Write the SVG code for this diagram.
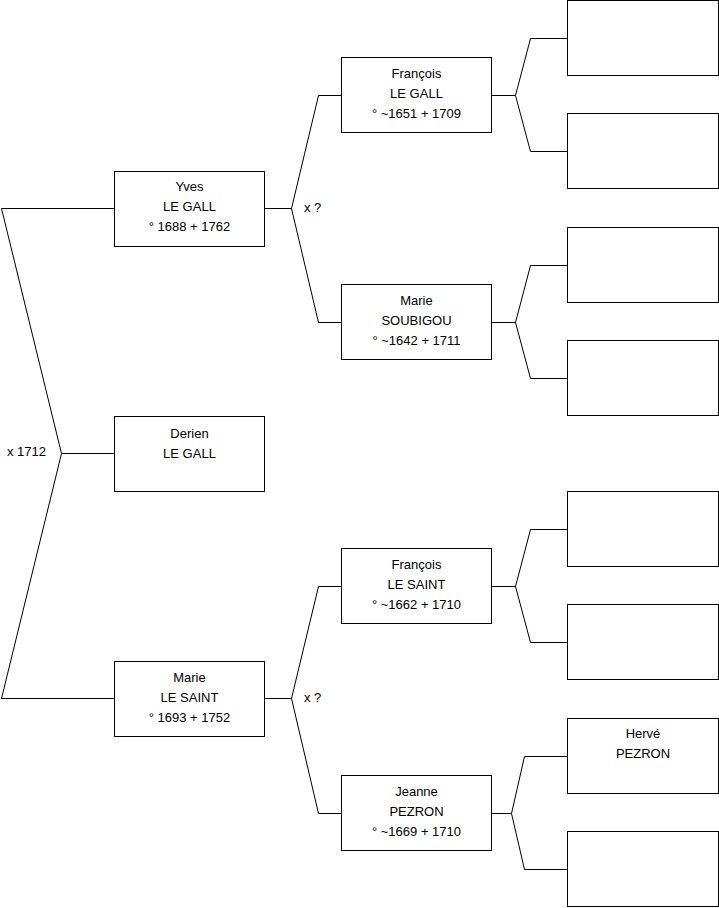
<svg xmlns="http://www.w3.org/2000/svg" width="719" height="908" viewBox="0 0 719 908">
<style>
.box{fill:#fff;stroke:#000;stroke-width:1}
.ln{fill:none;stroke:#000;stroke-width:1}
text{font-family:"Liberation Sans",Arial,sans-serif;font-size:13px;fill:#000}
.c{text-anchor:middle}
</style>
<rect width="719" height="908" fill="#fff"/>
<g id="connectors">
<path class="ln" d="M114.5 208.5 H1.5 L61.5 453.5 L1.5 698.5 H114.5 M61.5 453.5 H114.5"/>
<path class="ln" d="M265 208.5 H291.5 M341 95.5 H318.5 L291.5 208.5 L318.5 322.5 H341"/>
<path class="ln" d="M265 698.5 H291.5 M341 586.5 H318.5 L291.5 698.5 L318.5 813.5 H341"/>
<path class="ln" d="M492 95.5 H515.5 M567 38.5 H530.5 L515.5 95.5 L530.5 151.5 H567"/>
<path class="ln" d="M492 322.5 H515.5 M567 265.5 H530.5 L515.5 322.5 L530.5 378.5 H567"/>
<path class="ln" d="M492 586.5 H515.5 M567 529.5 H530.5 L515.5 586.5 L530.5 642.5 H567"/>
<path class="ln" d="M492 813.5 H511.5 M567 756.5 H524.5 L511.5 813.5 L524.5 869.5 H567"/>
<text x="7" y="456">x 1712</text>
<text x="304" y="212">x ?</text>
<text x="304" y="702">x ?</text>
</g>
<g id="yves"><rect class="box" x="114.5" y="171.5" width="150" height="75"/>
<text class="c" x="189.5" y="191">Yves</text><text class="c" x="189.5" y="211">LE GALL</text><text class="c" x="189.5" y="231">° 1688 + 1762</text></g>
<g id="derien"><rect class="box" x="114.5" y="416.5" width="150" height="75"/>
<text class="c" x="189.5" y="438">Derien</text><text class="c" x="189.5" y="458">LE GALL</text></g>
<g id="marie-ls"><rect class="box" x="114.5" y="661.5" width="150" height="75"/>
<text class="c" x="189.5" y="682">Marie</text><text class="c" x="189.5" y="702">LE SAINT</text><text class="c" x="189.5" y="722">° 1693 + 1752</text></g>
<g id="francois-lg"><rect class="box" x="341.5" y="57.5" width="150" height="75"/>
<text class="c" x="416.5" y="78">François</text><text class="c" x="416.5" y="98">LE GALL</text><text class="c" x="416.5" y="118">° ~1651 + 1709</text></g>
<g id="marie-s"><rect class="box" x="341.5" y="284.5" width="150" height="75"/>
<text class="c" x="416.5" y="305">Marie</text><text class="c" x="416.5" y="325">SOUBIGOU</text><text class="c" x="416.5" y="345">° ~1642 + 1711</text></g>
<g id="francois-ls"><rect class="box" x="341.5" y="548.5" width="150" height="75"/>
<text class="c" x="416.5" y="569">François</text><text class="c" x="416.5" y="589">LE SAINT</text><text class="c" x="416.5" y="609">° ~1662 + 1710</text></g>
<g id="jeanne"><rect class="box" x="341.5" y="775.5" width="150" height="75"/>
<text class="c" x="416.5" y="796">Jeanne</text><text class="c" x="416.5" y="816">PEZRON</text><text class="c" x="416.5" y="836">° ~1669 + 1710</text></g>
<g id="g1"><rect class="box" x="567.5" y="0.5" width="151" height="75"/></g>
<g id="g2"><rect class="box" x="567.5" y="113.5" width="151" height="75"/></g>
<g id="g3"><rect class="box" x="567.5" y="227.5" width="151" height="75"/></g>
<g id="g4"><rect class="box" x="567.5" y="340.5" width="151" height="75"/></g>
<g id="g5"><rect class="box" x="567.5" y="491.5" width="151" height="75"/></g>
<g id="g6"><rect class="box" x="567.5" y="604.5" width="151" height="75"/></g>
<g id="herve"><rect class="box" x="567.5" y="718.5" width="151" height="75"/>
<text class="c" x="643" y="738">Hervé</text><text class="c" x="643" y="758">PEZRON</text></g>
<g id="g8"><rect class="box" x="567.5" y="831.5" width="151" height="75"/></g>
</svg>
